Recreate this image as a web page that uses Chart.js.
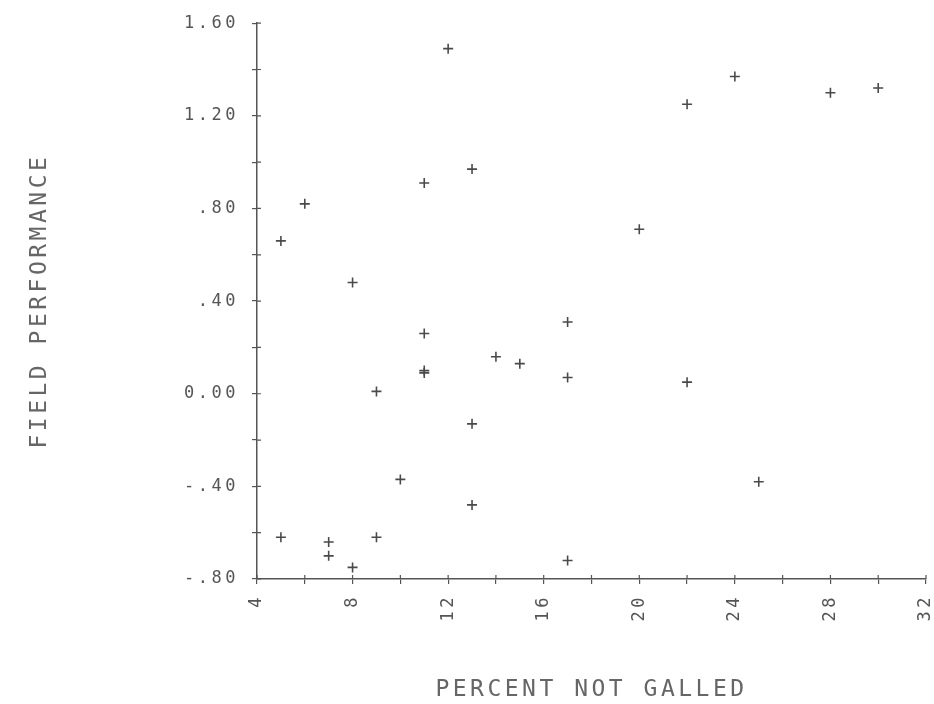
<!DOCTYPE html>
<html>
<head>
<meta charset="utf-8">
<script src="https://cdn.jsdelivr.net/npm/chart.js@4"></script>
<style>
  html, body { margin: 0; padding: 0; background: #fff; }
  #wrap { width: 934px; height: 704px; }
</style>
</head>
<body>
<div id="wrap"><canvas id="chart"></canvas></div>
<script>
// percent not galled (x) vs field performance (y)
const pctNotGalled = [12, 11, 13, 6, 5, 8, 24, 22, 28, 30, 20, 17, 11, 11, 11, 14, 15, 9, 13, 10, 13, 5, 9, 7, 7, 8, 17, 22, 25, 17];
const fieldPerf    = [1.49, .91, .97, .82, .66, .48, 1.37, 1.25, 1.30, 1.32, .71, .31, .26, .09, .10, .16, .13, .01, -.13, -.37, -.48, -.62, -.62, -.64, -.70, -.75, .07, .05, -.38, -.72];

const xTickLabels = ["4", "", "8", "", "12", "", "16", "", "20", "", "24", "", "28", "", "32"];
const yTickLabels = ["-.80", "", "-.40", "", "0.00", "", ".40", "", ".80", "", "1.20", "", "1.60"];

const INK  = "#4a4a4a";
const AXIS = "#555";
const FONT = "'DejaVu Sans Mono', 'Liberation Mono', monospace";

// plotter look: wide letter spacing on everything
const spacing = {
  id: "spacing",
  beforeDraw(chart) { chart.ctx.letterSpacing = "3.5px"; }
};

// tick marks cross the axis, so add the inner half
const innerTicks = {
  id: "innerTicks",
  afterDraw(chart) {
    const { ctx, scales: { x, y } } = chart;
    ctx.save();
    ctx.strokeStyle = AXIS;
    ctx.lineWidth = 1.2;
    ctx.beginPath();
    x.ticks.forEach((t, i) => {
      const px = x.getPixelForTick(i);
      ctx.moveTo(px, x.top); ctx.lineTo(px, x.top - 4);
    });
    y.ticks.forEach((t, i) => {
      const py = y.getPixelForTick(i);
      ctx.moveTo(y.right, py); ctx.lineTo(y.right + 4, py);
    });
    ctx.stroke();
    ctx.restore();
  }
};

const points = pctNotGalled.map((v, i) => ({ x: v, y: fieldPerf[i] }));

new Chart(document.getElementById("chart"), {
  type: "scatter",
  data: {
    datasets: [{
      data: points,
      pointStyle: "cross",
      radius: 5,
      borderWidth: 1.6,
      borderColor: INK,
      backgroundColor: INK
    }]
  },
  options: {
    responsive: true, maintainAspectRatio: false, animation: false,
    layout: { padding: { top: 21, right: 8, bottom: 0, left: 0 } },
    plugins: { legend: { display: false }, tooltip: { enabled: false } },
    scales: {
      x: {
        type: "linear", min: 4, max: 32,
        afterFit: s => { s.height = 125; s.paddingLeft = 0; s.paddingRight = 0; },
        grid: { drawOnChartArea: false, drawTicks: true, tickLength: 5, color: AXIS, lineWidth: 1.2 },
        border: { color: AXIS, width: 1.5 },
        ticks: {
          stepSize: 2, autoSkip: false, minRotation: 90, maxRotation: 90, padding: 10,
          color: "#555", font: { family: FONT, size: 17 },
          callback: (v, i) => xTickLabels[i]
        },
        title: {
          display: true, text: "PERCENT NOT GALLED", color: "#666",
          font: { family: FONT, size: 23 }, padding: { top: 0, bottom: 0 }
        }
      },
      y: {
        type: "linear", min: -0.8, max: 1.6,
        afterFit: s => { s.width = 257; },
        grid: { drawOnChartArea: false, drawTicks: true, tickLength: 5, color: AXIS, lineWidth: 1.2 },
        border: { color: AXIS, width: 1.5 },
        ticks: {
          stepSize: 0.2, autoSkip: false, padding: 13,
          color: "#555", font: { family: FONT, size: 17 },
          callback: (v, i) => yTickLabels[i]
        },
        title: {
          display: true, text: "FIELD PERFORMANCE", color: "#666",
          font: { family: FONT, size: 23 }, padding: { top: 26, bottom: 0 }
        }
      }
    }
  },
  plugins: [spacing, innerTicks]
});
</script>
</body>
</html>
